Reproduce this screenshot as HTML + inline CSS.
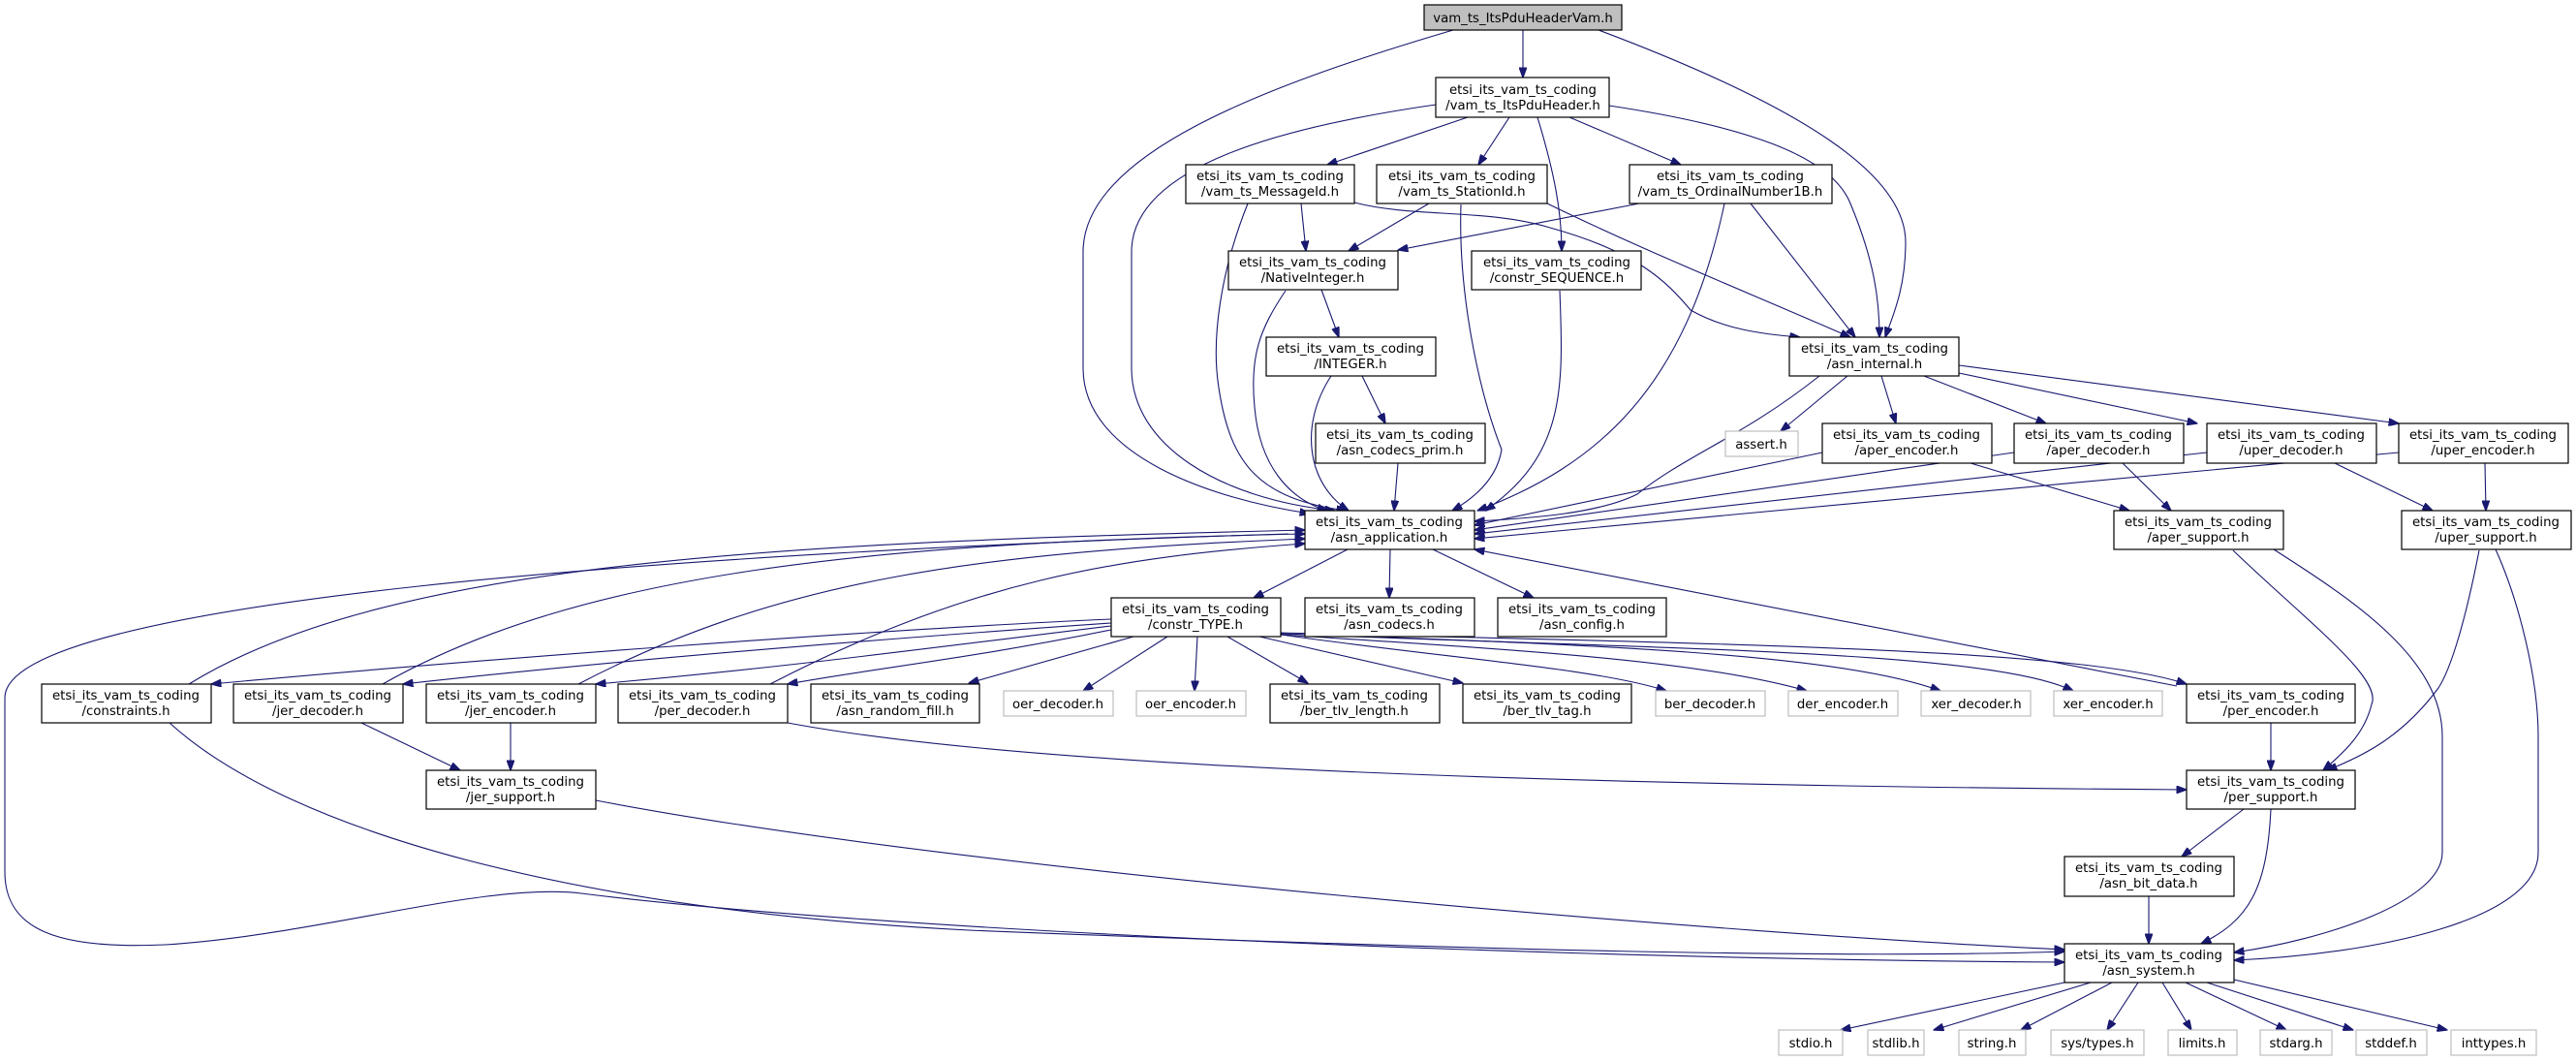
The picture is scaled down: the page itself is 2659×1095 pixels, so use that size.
<!DOCTYPE html>
<html><head><meta charset="utf-8"><style>
html,body{margin:0;padding:0;background:#fff;}
svg{display:block;}
text{font-family:"DejaVu Sans","Liberation Sans",sans-serif;font-size:13.3px;fill:#000;text-anchor:middle;}
.n{fill:#fff;stroke:#000;stroke-width:1.2;}
.g{fill:#fff;stroke:#bfbfbf;stroke-width:1.2;}
.e{fill:none;stroke:#191970;stroke-width:1.1;marker-end:url(#a);}
</style></head><body>
<svg width="2659" height="1095" viewBox="0 0 2659 1095" xmlns="http://www.w3.org/2000/svg">
<defs><marker id="a" markerUnits="userSpaceOnUse" markerWidth="11" markerHeight="8" refX="10.5" refY="4" orient="auto"><path d="M0,0 L11,4 L0,8 z" fill="#191970" stroke="#191970"/></marker></defs>

<!-- edges -->
<g>
<path class="e" d="M1572,31 L1572,80"/>
<path class="e" d="M1500,31 C1300,90 1118,160 1118,260 L1118,380 C1118,470 1250,515 1352,530"/>
<path class="e" d="M1650,31 C1860,110 1967,180 1967,250 C1967,300 1952,330 1946,348"/>
<path class="e" d="M1482,108 C1330,130 1168,170 1168,260 L1168,380 C1168,460 1260,515 1378,527"/>
<path class="e" d="M1515,121 L1370,170"/>
<path class="e" d="M1558,121 L1526,170"/>
<path class="e" d="M1587,121 C1605,180 1612,220 1612,259"/>
<path class="e" d="M1620,121 L1735,170"/>
<path class="e" d="M1661,109 C1800,130 1890,160 1910,210 C1935,270 1940,310 1940,348"/>
<path class="e" d="M1343,210 L1348,259"/>
<path class="e" d="M1288,210 C1260,280 1250,350 1258,400 C1270,480 1300,515 1390,527"/>
<path class="e" d="M1398,209 C1460,225 1533,215 1600,235 C1690,260 1720,290 1745,320 C1780,340 1820,345 1858,348"/>
<path class="e" d="M1475,210 L1392,259"/>
<path class="e" d="M1508,211 C1505,300 1525,400 1550,464 C1545,495 1520,515 1499,527"/>
<path class="e" d="M1597,210 C1700,260 1800,300 1910,348"/>
<path class="e" d="M1692,210 L1443,258"/>
<path class="e" d="M1780,210 C1740,400 1650,480 1525,527"/>
<path class="e" d="M1807,210 L1915,348"/>
<path class="e" d="M1610,300 C1614,400 1616,470 1533,527"/>
<path class="e" d="M1364,299 L1382,348"/>
<path class="e" d="M1327,300 C1300,340 1290,368 1295,420 C1300,480 1330,515 1370,527"/>
<path class="e" d="M1406,388 L1430,437"/>
<path class="e" d="M1374,388 C1340,440 1350,500 1392,527"/>
<path class="e" d="M1443,478 L1439,527"/>
<path class="e" d="M1907,388 L1838,445"/>
<path class="e" d="M1942,388 L1957,437"/>
<path class="e" d="M1986,388 L2112,437"/>
<path class="e" d="M2022,385 L2268,437"/>
<path class="e" d="M2022,377 L2476,437"/>
<path class="e" d="M1878,388 C1800,450 1740,470 1690,510 C1650,530 1580,535 1522,538"/>
<path class="e" d="M1881,467 L1522,542"/>
<path class="e" d="M2079,467 L1522,547"/>
<path class="e" d="M2278,467 L1522,551"/>
<path class="e" d="M2476,467 L1522,556"/>
<path class="e" d="M2034,478 L2198,527"/>
<path class="e" d="M2191,478 L2241,527"/>
<path class="e" d="M2410,478 L2511,527"/>
<path class="e" d="M2565,478 L2566,527"/>
<path class="e" d="M1391,567 L1294,617"/>
<path class="e" d="M1435,567 L1434,617"/>
<path class="e" d="M1479,567 L1583,617"/>
<path class="e" d="M2247,708 L1522,567"/>
<!-- constr_TYPE out -->
<path class="e" d="M1147,639 C900,650 500,680 218,706"/>
<path class="e" d="M1147,643 C900,660 650,680 416,706"/>
<path class="e" d="M1147,646 C950,670 800,690 615,706"/>
<path class="e" d="M1147,650 C1000,680 900,690 813,706"/>
<path class="e" d="M1170,657 L1000,705"/>
<path class="e" d="M1205,657 L1118,713"/>
<path class="e" d="M1236,657 L1233,713"/>
<path class="e" d="M1267,657 L1350,705"/>
<path class="e" d="M1300,657 L1510,705"/>
<path class="e" d="M1322,655 C1500,680 1650,690 1720,713"/>
<path class="e" d="M1322,655 C1550,670 1750,680 1865,713"/>
<path class="e" d="M1322,654 C1650,665 1900,675 2003,713"/>
<path class="e" d="M1322,654 C1700,670 2050,670 2140,713"/>
<path class="e" d="M1322,653 C1800,665 2150,670 2257,706"/>
<!-- back to asn_application -->
<path class="e" d="M195,706 C400,580 800,560 1347,547"/>
<path class="e" d="M395,706 C600,590 900,560 1347,551"/>
<path class="e" d="M597,706 C800,600 1000,570 1347,556"/>
<path class="e" d="M795,706 C1000,600 1150,575 1347,561"/>
<path class="e" d="M1330,551 C700,570 5,620 5,720 L5,900 C5,960 60,980 170,975 C330,965 500,910 600,922 C900,960 1600,990 2131,993"/>
<path class="e" d="M175,746 C300,860 600,940 1000,960 C1500,980 1900,990 2131,982"/>
<path class="e" d="M615,826 C1000,900 1800,965 2131,980"/>
<path class="e" d="M373,746 L475,795"/>
<path class="e" d="M527,746 L527,795"/>
<path class="e" d="M813,746 C1100,800 1800,812 2257,815"/>
<path class="e" d="M2344,746 L2344,795"/>
<path class="e" d="M2305,568 C2380,640 2460,700 2448,727 C2440,760 2415,780 2398,795"/>
<path class="e" d="M2559,568 C2545,640 2530,690 2517,710 C2480,760 2440,780 2402,795"/>
<path class="e" d="M2347,567 C2430,620 2521,680 2521,760 L2521,880 C2521,930 2400,970 2306,983"/>
<path class="e" d="M2576,567 C2600,620 2620,700 2620,760 L2620,880 C2620,950 2450,985 2306,991"/>
<path class="e" d="M2316,835 L2252,884"/>
<path class="e" d="M2344,835 C2340,920 2320,950 2272,974"/>
<path class="e" d="M2218,925 L2218,974"/>
<path class="e" d="M2131,1014 L1900,1063"/>
<path class="e" d="M2158,1014 L1996,1063"/>
<path class="e" d="M2180,1014 L2086,1063"/>
<path class="e" d="M2207,1014 L2175,1063"/>
<path class="e" d="M2232,1014 L2262,1063"/>
<path class="e" d="M2256,1014 L2360,1063"/>
<path class="e" d="M2278,1014 L2429,1063"/>
<path class="e" d="M2306,1011 L2526,1063"/>
</g>

<!-- nodes -->
<g>
<rect x="1470" y="5" width="204" height="26" fill="#bfbfbf" stroke="#000" stroke-width="1.2"/><text x="1572" y="23">vam_ts_ItsPduHeaderVam.h</text>

<rect class="n" x="1482" y="80" width="179" height="41"/><text x="1572" y="97">etsi_its_vam_ts_coding</text><text x="1572" y="113">/vam_ts_ItsPduHeader.h</text>

<rect class="n" x="1224" y="170" width="174" height="40"/><text x="1311" y="186">etsi_its_vam_ts_coding</text><text x="1311" y="202">/vam_ts_MessageId.h</text>
<rect class="n" x="1421" y="170" width="176" height="40"/><text x="1509" y="186">etsi_its_vam_ts_coding</text><text x="1509" y="202">/vam_ts_StationId.h</text>
<rect class="n" x="1682" y="170" width="209" height="40"/><text x="1786" y="186">etsi_its_vam_ts_coding</text><text x="1786" y="202">/vam_ts_OrdinalNumber1B.h</text>

<rect class="n" x="1268" y="259" width="175" height="40"/><text x="1355" y="275">etsi_its_vam_ts_coding</text><text x="1355" y="291">/NativeInteger.h</text>
<rect class="n" x="1519" y="259" width="175" height="40"/><text x="1607" y="275">etsi_its_vam_ts_coding</text><text x="1607" y="291">/constr_SEQUENCE.h</text>

<rect class="n" x="1307" y="348" width="175" height="40"/><text x="1394" y="364">etsi_its_vam_ts_coding</text><text x="1394" y="380">/INTEGER.h</text>
<rect class="n" x="1847" y="348" width="175" height="40"/><text x="1935" y="364">etsi_its_vam_ts_coding</text><text x="1935" y="380">/asn_internal.h</text>

<rect class="n" x="1358" y="437" width="175" height="41"/><text x="1445" y="453">etsi_its_vam_ts_coding</text><text x="1445" y="469">/asn_codecs_prim.h</text>
<rect class="g" x="1781" y="445" width="75" height="26"/><text x="1818" y="463">assert.h</text>
<rect class="n" x="1881" y="437" width="175" height="41"/><text x="1968" y="453">etsi_its_vam_ts_coding</text><text x="1968" y="469">/aper_encoder.h</text>
<rect class="n" x="2079" y="437" width="175" height="41"/><text x="2166" y="453">etsi_its_vam_ts_coding</text><text x="2166" y="469">/aper_decoder.h</text>
<rect class="n" x="2278" y="437" width="175" height="41"/><text x="2365" y="453">etsi_its_vam_ts_coding</text><text x="2365" y="469">/uper_decoder.h</text>
<rect class="n" x="2476" y="437" width="175" height="41"/><text x="2563" y="453">etsi_its_vam_ts_coding</text><text x="2563" y="469">/uper_encoder.h</text>

<rect class="n" x="1347" y="527" width="175" height="40"/><text x="1434" y="543">etsi_its_vam_ts_coding</text><text x="1434" y="559">/asn_application.h</text>
<rect class="n" x="2182" y="527" width="175" height="40"/><text x="2269" y="543">etsi_its_vam_ts_coding</text><text x="2269" y="559">/aper_support.h</text>
<rect class="n" x="2479" y="527" width="175" height="40"/><text x="2566" y="543">etsi_its_vam_ts_coding</text><text x="2566" y="559">/uper_support.h</text>

<rect class="n" x="1147" y="617" width="175" height="40"/><text x="1234" y="633">etsi_its_vam_ts_coding</text><text x="1234" y="649">/constr_TYPE.h</text>
<rect class="n" x="1347" y="617" width="175" height="40"/><text x="1434" y="633">etsi_its_vam_ts_coding</text><text x="1434" y="649">/asn_codecs.h</text>
<rect class="n" x="1546" y="617" width="174" height="40"/><text x="1633" y="633">etsi_its_vam_ts_coding</text><text x="1633" y="649">/asn_config.h</text>

<rect class="n" x="43" y="706" width="175" height="40"/><text x="130" y="722">etsi_its_vam_ts_coding</text><text x="130" y="738">/constraints.h</text>
<rect class="n" x="241" y="706" width="175" height="40"/><text x="328" y="722">etsi_its_vam_ts_coding</text><text x="328" y="738">/jer_decoder.h</text>
<rect class="n" x="440" y="706" width="175" height="40"/><text x="527" y="722">etsi_its_vam_ts_coding</text><text x="527" y="738">/jer_encoder.h</text>
<rect class="n" x="638" y="706" width="175" height="40"/><text x="725" y="722">etsi_its_vam_ts_coding</text><text x="725" y="738">/per_decoder.h</text>
<rect class="n" x="837" y="706" width="174" height="40"/><text x="924" y="722">etsi_its_vam_ts_coding</text><text x="924" y="738">/asn_random_fill.h</text>
<rect class="g" x="1036" y="713" width="113" height="26"/><text x="1092" y="731">oer_decoder.h</text>
<rect class="g" x="1173" y="713" width="113" height="26"/><text x="1229" y="731">oer_encoder.h</text>
<rect class="n" x="1311" y="706" width="175" height="40"/><text x="1398" y="722">etsi_its_vam_ts_coding</text><text x="1398" y="738">/ber_tlv_length.h</text>
<rect class="n" x="1510" y="706" width="174" height="40"/><text x="1597" y="722">etsi_its_vam_ts_coding</text><text x="1597" y="738">/ber_tlv_tag.h</text>
<rect class="g" x="1709" y="713" width="113" height="26"/><text x="1765" y="731">ber_decoder.h</text>
<rect class="g" x="1846" y="713" width="113" height="26"/><text x="1902" y="731">der_encoder.h</text>
<rect class="g" x="1983" y="713" width="113" height="26"/><text x="2040" y="731">xer_decoder.h</text>
<rect class="g" x="2120" y="713" width="112" height="26"/><text x="2176" y="731">xer_encoder.h</text>
<rect class="n" x="2257" y="706" width="174" height="40"/><text x="2344" y="722">etsi_its_vam_ts_coding</text><text x="2344" y="738">/per_encoder.h</text>

<rect class="n" x="440" y="795" width="175" height="40"/><text x="527" y="811">etsi_its_vam_ts_coding</text><text x="527" y="827">/jer_support.h</text>
<rect class="n" x="2257" y="795" width="174" height="40"/><text x="2344" y="811">etsi_its_vam_ts_coding</text><text x="2344" y="827">/per_support.h</text>

<rect class="n" x="2131" y="884" width="175" height="41"/><text x="2218" y="900">etsi_its_vam_ts_coding</text><text x="2218" y="916">/asn_bit_data.h</text>
<rect class="n" x="2131" y="974" width="175" height="40"/><text x="2218" y="990">etsi_its_vam_ts_coding</text><text x="2218" y="1006">/asn_system.h</text>

<rect class="g" x="1836" y="1063" width="66" height="26"/><text x="1869" y="1081">stdio.h</text>
<rect class="g" x="1928" y="1063" width="58" height="26"/><text x="1957" y="1081">stdlib.h</text>
<rect class="g" x="2022" y="1063" width="69" height="26"/><text x="2056" y="1081">string.h</text>
<rect class="g" x="2117" y="1063" width="96" height="26"/><text x="2165" y="1081">sys/types.h</text>
<rect class="g" x="2238" y="1063" width="71" height="26"/><text x="2273" y="1081">limits.h</text>
<rect class="g" x="2333" y="1063" width="74" height="26"/><text x="2370" y="1081">stdarg.h</text>
<rect class="g" x="2432" y="1063" width="73" height="26"/><text x="2468" y="1081">stddef.h</text>
<rect class="g" x="2530" y="1063" width="88" height="26"/><text x="2574" y="1081">inttypes.h</text>
</g>
</svg>
</body></html>
